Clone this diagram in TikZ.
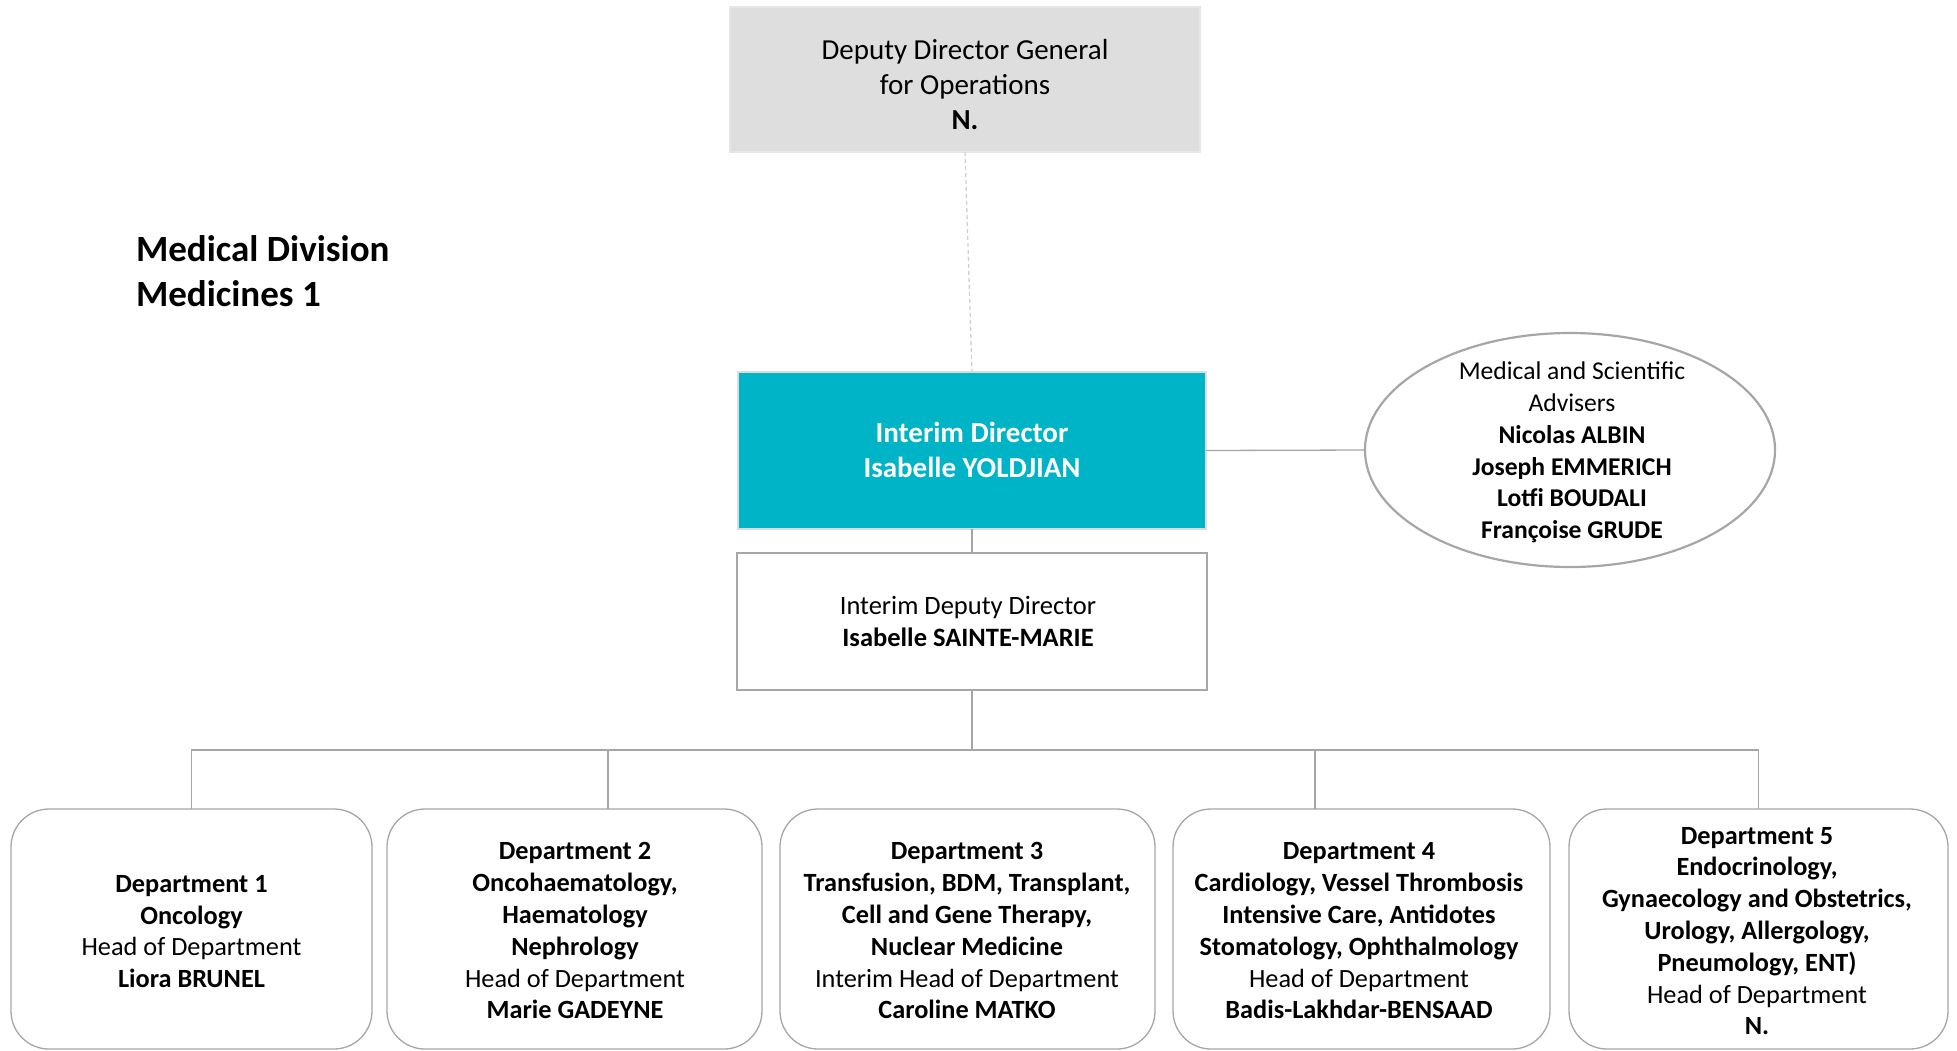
\documentclass[tikz,border=0pt]{standalone}
\usepackage{fontspec}
\setmainfont{Carlito}
\usetikzlibrary{shapes.geometric}
\definecolor{lnc}{HTML}{A6A6A6}
\definecolor{topfill}{HTML}{DEDEDE}
\definecolor{topline}{HTML}{E6E6E6}
\definecolor{teal}{HTML}{00B4C8}
\definecolor{tealline}{HTML}{DCDCDC}
\definecolor{dashc}{HTML}{D0D0D0}
\newcommand\ls{\rule[-0.22em]{0pt}{1.08em}}
\tikzset{
  boxshape/.style={rectangle, inner sep=0pt, outer sep=0pt},
  topbox/.style={boxshape, fill=topfill, draw=topline, line width=2.5pt},
  tealbox/.style={boxshape, fill=teal, draw=tealline, line width=2.5pt},
  depbox/.style={boxshape, fill=white, draw=lnc, line width=1.5pt},
  deptbox/.style={boxshape, draw=lnc, line width=1.3pt, rounded corners=38pt},
  advbox/.style={ellipse, inner sep=0pt, outer sep=0pt, draw=lnc, line width=2.2pt},
  txt/.style={inner sep=0pt, outer sep=0pt, align=center, anchor=center},
  conn/.style={draw=lnc, line width=1.3pt},
  dconn/.style={draw=dashc, line width=1.3pt, dash pattern=on 4pt off 3pt},
}
\begin{document}
\begin{tikzpicture}[x=1pt, y=-1pt]
\useasboundingbox (0,0) rectangle (1957,1050);

% title
\node[inner sep=0pt, outer sep=0pt, align=left, anchor=west, font=\fontsize{37}{44.5}\selectfont\bfseries] (title) at (136,272) {\ls Medical Division\\\ls Medicines 1};

% top box
\node[topbox, minimum width=470pt, minimum height=145pt] (top) at (965,79.5) {};
\node[txt, font=\fontsize{29}{35}\selectfont] (topt) at (965,85.5) {\ls Deputy Director General\\\ls for Operations\\\ls\textbf{N.}};

% interim director
\node[tealbox, minimum width=468pt, minimum height=157pt] (dir) at (972,450.5) {};
\node[txt, text=white, font=\fontsize{29}{35}\selectfont\bfseries] (dirt) at (972,451) {\ls Interim Director\\\ls Isabelle YOLDJIAN};

% deputy
\node[depbox, minimum width=470pt, minimum height=137pt] (dep) at (972,621.5) {};
\node[txt, font=\fontsize{26.5}{32}\selectfont] (dept) at (968,622) {\ls Interim Deputy Director\\\ls\textbf{Isabelle SAINTE-MARIE}};

% advisers
\node[advbox, minimum width=410pt, minimum height=234pt] (adv) at (1570,450) {};
\node[txt, font=\fontsize{25.6}{31.8}\selectfont] (advt) at (1572,451) {\ls Medical and Scientific\\\ls Advisers\\\ls\textbf{Nicolas ALBIN}\\\ls\textbf{Joseph EMMERICH}\\\ls\textbf{Lotfi BOUDALI}\\\ls\textbf{Françoise GRUDE}};

% departments
\node[deptbox, minimum width=361pt, minimum height=240pt] (d1) at (191.5,929) {};
\node[deptbox, minimum width=375pt, minimum height=240pt] (d2) at (574.5,929) {};
\node[deptbox, minimum width=375pt, minimum height=240pt] (d3) at (967.5,929) {};
\node[deptbox, minimum width=377pt, minimum height=240pt] (d4) at (1361.5,929) {};
\node[deptbox, minimum width=379pt, minimum height=240pt] (d5) at (1758.5,929) {};

\tikzset{dfont/.style={font=\fontsize{26.3}{31.8}\selectfont}}
\node[txt, dfont] (d1t) at (191.5,931.5) {\ls\textbf{Department 1}\\\ls\textbf{Oncology}\\\ls Head of Department\\\ls\textbf{Liora BRUNEL}};
\node[txt, dfont] (d2t) at (575,931) {\ls\textbf{Department 2}\\\ls\textbf{Oncohaematology,}\\\ls\textbf{Haematology}\\\ls\textbf{Nephrology}\\\ls Head of Department\\\ls\textbf{Marie GADEYNE}};
\node[txt, dfont] (d3t) at (967,931) {\ls\textbf{Department 3}\\\ls\textbf{Transfusion, BDM, Transplant,}\\\ls\textbf{Cell and Gene Therapy,}\\\ls\textbf{Nuclear Medicine}\\\ls Interim Head of Department\\\ls\textbf{Caroline MATKO}};
\node[txt, dfont] (d4t) at (1359,931) {\ls\textbf{Department 4}\\\ls\textbf{Cardiology, Vessel Thrombosis}\\\ls\textbf{Intensive Care, Antidotes}\\\ls\textbf{Stomatology, Ophthalmology}\\\ls Head of Department\\\ls\textbf{Badis-Lakhdar-BENSAAD}};
\node[txt, dfont] (d5t) at (1757,931) {\ls\textbf{Department 5}\\\ls\textbf{Endocrinology,}\\\ls\textbf{Gynaecology and Obstetrics,}\\\ls\textbf{Urology, Allergology,}\\\ls\textbf{Pneumology, ENT)}\\\ls Head of Department\\\ls\textbf{N.}};

% connectors
\draw[dconn] (top.south) -- (dir.north);
\draw[conn] (dir.east) -- (adv.west);
\draw[conn] (dir.south) -- (dep.north);
\coordinate (bus) at (972,750);
\draw[conn] (dep.south) -- (bus);
\draw[conn] (bus) -| (d1.north);
\draw[conn] (bus) -| ([xshift=33.5pt]d2.north);
\draw[conn] (bus) -| ([xshift=-46.5pt]d4.north);
\draw[conn] (bus) -| (d5.north);
\end{tikzpicture}
\end{document}
